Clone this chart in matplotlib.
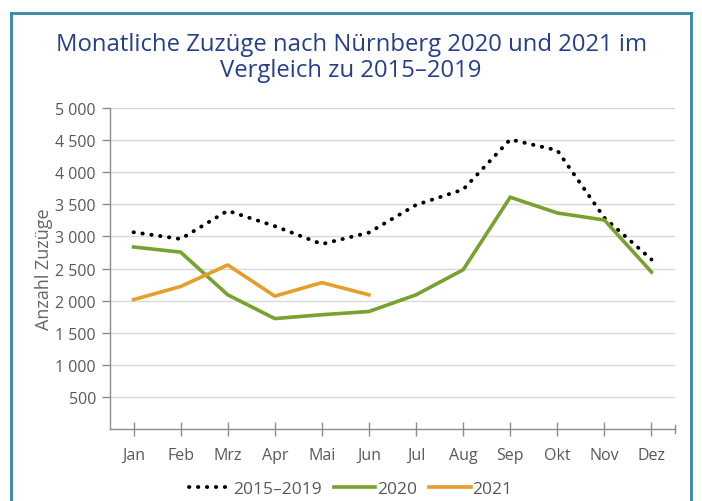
import matplotlib.pyplot as plt
from matplotlib.lines import Line2D
from matplotlib.ticker import FuncFormatter

months = ['Jan', 'Feb', 'Mrz', 'Apr', 'Mai', 'Jun', 'Jul', 'Aug', 'Sep', 'Okt', 'Nov', 'Dez']
avg_1519 = [3065, 2960, 3400, 3160, 2880, 3060, 3490, 3730, 4510, 4340, 3290, 2640]
y2020 = [2835, 2755, 2090, 1720, 1780, 1830, 2090, 2480, 3610, 3365, 3255, 2445]
y2021 = [2015, 2220, 2555, 2070, 2280, 2090]

plt.rcParams['font.family'] = ['Open Sans', 'DejaVu Sans']
grey = '#595959'

fig = plt.figure(figsize=(7.02, 5.02), dpi=100)
ax = fig.add_axes([110 / 702, 1 - 430 / 502, 565 / 702, 321 / 502])

x = list(range(len(months)))
ax.plot(x, avg_1519, color='black', lw=2.8, ls=(0, (0.1, 2.2)),
        dash_capstyle='round', label='2015–2019')
ax.plot(x, y2020, color='#77a22f', lw=2.6, solid_joinstyle='miter', label='2020')
ax.plot(x[:len(y2021)], y2021, color='#e49e2a', lw=2.6, label='2021')

ax.set_xlim(-0.5, 11.5)
ax.set_ylim(0, 5000)
ax.set_yticks(range(500, 5001, 500))
ax.yaxis.set_major_formatter(FuncFormatter(lambda v, p: f'{int(v):,}'.replace(',', ' ')))
ax.set_xticks(x)
ax.set_xticklabels(months)
ax.grid(axis='y', color='#d9d9d9', lw=1)
ax.set_axisbelow(True)

for s in ['top', 'right']:
    ax.spines[s].set_visible(False)
for s in ['left', 'bottom']:
    ax.spines[s].set_color('#8c8c8c')
    ax.spines[s].set_linewidth(1)
ax.tick_params(colors='#8c8c8c', labelcolor=grey, labelsize=11.5, length=6, width=1)
ax.tick_params(axis='x', direction='inout', length=10, pad=8)
ax.tick_params(axis='y', pad=4)
# tick at right end of x axis
ax.plot([11.5, 11.5], [-60, 60], color='#8c8c8c', lw=1, clip_on=False)

ax.set_ylabel('Anzahl Zuzüge', color='#666666', fontsize=13, labelpad=2)

fig.text(0.5, 1 - 58 / 502, 'Monatliche Zuzüge nach Nürnberg 2020 und 2021 im\nVergleich zu 2015–2019',
         ha='center', va='center', color='#263f8c', fontsize=17.2, linespacing=1.15)

leg = fig.legend(loc='center', bbox_to_anchor=(0.5, 1 - 490 / 502), ncol=3, frameon=False,
                 fontsize=12.5, handlelength=2.4, handletextpad=0.1, columnspacing=0.7)
for t in leg.get_texts():
    t.set_color(grey)

# frame around the chart (open at the bottom)
border = '#3389a8'
fig.add_artist(Line2D([10.5 / 702, 10.5 / 702], [0, 1 - 14 / 502], color=border, lw=2))
fig.add_artist(Line2D([10.5 / 702, 691 / 702], [1 - 14 / 502, 1 - 14 / 502], color=border, lw=2))
fig.add_artist(Line2D([691 / 702, 691 / 702], [0, 1 - 14 / 502], color=border, lw=2))

fig.savefig('out.png', dpi=100)
